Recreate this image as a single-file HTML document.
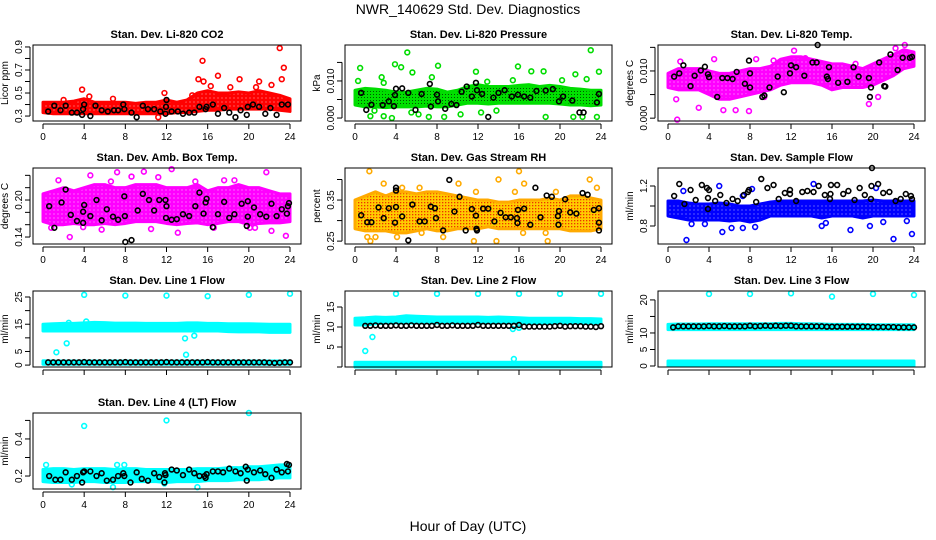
<!DOCTYPE html>
<html><head><meta charset="utf-8"><style>
body{margin:0;background:#fff;}
svg{display:block;font-family:"Liberation Sans",sans-serif;}
</style></head><body>
<svg id="chart" width="936" height="540" viewBox="0 0 936 540">
<defs>
<pattern id="patGreen" width="3" height="3" patternUnits="userSpaceOnUse"><rect width="3" height="3" fill="#00e000"/><rect x="1" y="1" width="1" height="1" fill="#005500"/></pattern>
<pattern id="patOrange" width="3" height="3" patternUnits="userSpaceOnUse"><rect width="3" height="3" fill="#ffcc00"/><rect x="1" y="1" width="1.3" height="1.3" fill="#ee3300"/></pattern>
<pattern id="patRed" width="4" height="4" patternUnits="userSpaceOnUse"><rect width="4" height="4" fill="#ff0000"/><rect x="1.5" y="1.5" width="1" height="1" fill="#ffb0b0"/></pattern>
<pattern id="patMagenta" width="4" height="4" patternUnits="userSpaceOnUse"><rect width="4" height="4" fill="#ff00ff"/><rect x="1.5" y="1.5" width="1" height="1" fill="#ffc0ff"/></pattern>
<pattern id="patBlue" width="4" height="4" patternUnits="userSpaceOnUse"><rect width="4" height="4" fill="#0000ff"/><rect x="1.5" y="1.5" width="1" height="1" fill="#b0b0ff"/></pattern>
</defs>
<text x="468" y="14" text-anchor="middle" font-size="14">NWR_140629  Std. Dev. Diagnostics</text>
<text x="468" y="531" text-anchor="middle" font-size="14">Hour of Day (UTC)</text>
</svg>
<script>
// ---------- data ----------
const bandHours=[0,1,2,3,4,5,6,7,8,9,10,11,12,13,14,15,16,17,18,19,20,21,22,23,24];
const xTicks=[0,4,8,12,16,20,24];

const co2Lo=[0.33,0.32,0.32,0.32,0.32,0.32,0.32,0.32,0.32,0.32,0.32,0.32,0.32,0.33,0.33,0.34,0.35,0.35,0.36,0.36,0.36,0.36,0.36,0.35,0.34];
const co2Hi=[0.42,0.42,0.42,0.43,0.45,0.42,0.42,0.42,0.42,0.41,0.42,0.42,0.44,0.42,0.44,0.50,0.52,0.50,0.50,0.51,0.50,0.52,0.50,0.48,0.45];
const co2Out=[[15.5,0.78],[23,0.89],[23.4,0.72],[23.2,0.62],[17,0.65],[15.1,0.62],[15.6,0.6],[16.3,0.56],[18.2,0.55],[19.1,0.62],[20.7,0.55],[21,0.6],[22.2,0.57],[3.8,0.53],[11.8,0.5],[14.5,0.48],[11.2,0.29],[4.5,0.47],[6.8,0.45],[2,0.44]];
const co2Blk=[[0.5,0.34],[1.1,0.39],[1.7,0.35],[2.2,0.39],[2.8,0.33],[3.3,0.33],[3.8,0.31],[3.9,0.36],[4,0.4],[4.6,0.3],[5.1,0.39],[5.7,0.35],[6.3,0.34],[6.9,0.35],[7.3,0.35],[7.8,0.4],[7.9,0.36],[8.6,0.33],[9.1,0.29],[9.7,0.39],[10.2,0.36],[10.8,0.36],[11.4,0.34],[11.9,0.32],[11.95,0.38],[12,0.44],[12.5,0.34],[13.1,0.34],[13.6,0.32],[14.2,0.33],[14.7,0.33],[15.2,0.38],[15.8,0.36],[15.9,0.38],[16.5,0.4],[17,0.32],[17.6,0.37],[18.1,0.33],[18.7,0.29],[19.2,0.35],[19.8,0.31],[19.9,0.38],[20.4,0.4],[21,0.38],[21.6,0.32],[22.1,0.37],[22.7,0.31],[23.2,0.4],[23.8,0.4]];

const presLo=[0.0035,0.003,0.003,0.0028,0.003,0.003,0.003,0.0032,0.003,0.003,0.0035,0.004,0.004,0.0038,0.004,0.004,0.004,0.004,0.004,0.004,0.0038,0.0035,0.0035,0.0033,0.0035];
const presHi=[0.0075,0.008,0.0078,0.0075,0.007,0.007,0.0075,0.008,0.0078,0.007,0.0075,0.0085,0.009,0.0085,0.0085,0.0085,0.0088,0.009,0.0085,0.0088,0.0085,0.008,0.0078,0.0075,0.0075];
const presOut=[[0.5,0.0135],[0.3,0.01],[2.6,0.011],[2.8,0.0095],[3.9,0.0145],[4.5,0.0137],[5.1,0.0177],[5.6,0.0123],[7.5,0.011],[8.1,0.0141],[11.8,0.0125],[12.9,0.0098],[15.4,0.0102],[15.9,0.0139],[17.2,0.0126],[18.4,0.0126],[20.2,0.0102],[21.5,0.0118],[22.6,0.0105],[23,0.0183],[23.8,0.0125],[1.5,0.0005],[2.8,0.0005],[3.6,0],[6.2,0.001],[7.2,0.0003],[8.7,0.0003],[10.3,0.001],[12.3,0.0015],[13.8,0.002],[18.6,0.0003],[21.3,0.0003],[22.2,0.0003],[23.6,0.0003],[1.9,0.002],[5.5,0.0015]];
const presBlk=[[0.6,0.0068],[1.1,0.0022],[1.6,0.0036],[2.7,0.0035],[3.3,0.0045],[3.8,0.0032],[3.9,0.0062],[4,0.0079],[4.6,0.008],[5.2,0.0068],[5.9,0.0022],[6.5,0.0065],[7.3,0.0092],[7.4,0.0031],[8,0.0063],[8.1,0.0045],[8.8,0.0025],[9.4,0.0038],[9.9,0.0035],[10.4,0.0071],[10.9,0.0085],[11.4,0.0058],[11.8,0.0095],[11.9,0.0075],[12.4,0.0065],[13,0.0003],[13.5,0.0055],[14,0.0068],[14.6,0.0075],[15.3,0.0058],[15.9,0.0063],[16.5,0.0058],[17.1,0.0055],[17.7,0.0073],[18.6,0.0074],[19.3,0.0078],[19.9,0.0045],[20.3,0.0058],[21.2,0.0047],[21.9,0.0015],[22.3,0.0015],[23.6,0.0042],[23.8,0.0065]];

const ltLo=[0.0065,0.006,0.006,0.006,0.005,0.004,0.004,0.0045,0.005,0.0055,0.006,0.007,0.0075,0.0075,0.0075,0.007,0.006,0.0065,0.0065,0.0065,0.007,0.008,0.009,0.0105,0.011];
const ltHi=[0.0095,0.0105,0.0105,0.0105,0.01,0.0095,0.0095,0.01,0.0105,0.0105,0.011,0.0125,0.013,0.013,0.0125,0.012,0.0115,0.0115,0.011,0.0105,0.0115,0.0125,0.0135,0.0145,0.014];
const ltOut=[[0.9,-0.0003],[0.8,0.004],[1.2,0.012],[3,0.0022],[4.5,0.0125],[5.4,0.0017],[6.6,0.0017],[7.9,0.0015],[8.6,0.0125],[10.3,0.0122],[12.3,0.0143],[19.6,0.003],[20.5,0.0045],[22.2,0.0148],[23.1,0.0155],[9.4,0.0045],[13.4,0.0127],[18.3,0.0115]];
const ltBlk=[[0.6,0.0088],[1.1,0.0095],[1.5,0.0112],[2.2,0.0068],[2.6,0.009],[3.2,0.0101],[3.6,0.0109],[3.9,0.0093],[4,0.0087],[4.8,0.0045],[5.3,0.0085],[5.8,0.0085],[6.3,0.0083],[6.7,0.0098],[7.5,0.0073],[7.9,0.0122],[8,0.0095],[8,0.0065],[9.2,0.0045],[9.4,0.0048],[9.9,0.0065],[10.7,0.0088],[11.3,0.0055],[11.9,0.0095],[12,0.0112],[12.5,0.0108],[13.3,0.009],[14.1,0.0118],[14.5,0.0118],[14.6,0.0155],[15.5,0.0088],[15.6,0.0083],[15.7,0.0108],[16.6,0.0075],[17.5,0.0077],[18.1,0.0108],[18.6,0.0088],[19.6,0.0085],[19.7,0.0045],[19.8,0.0065],[20.6,0.0118],[21.1,0.0068],[21.2,0.0067],[21.7,0.0135],[22.4,0.0102],[22.9,0.0128],[23.6,0.0128],[23.8,0.013]];

const ambLo=[0.165,0.16,0.16,0.162,0.16,0.16,0.162,0.16,0.162,0.165,0.165,0.165,0.162,0.16,0.162,0.163,0.16,0.162,0.165,0.165,0.16,0.162,0.163,0.163,0.165];
const ambHi=[0.21,0.215,0.22,0.215,0.22,0.225,0.225,0.22,0.22,0.225,0.225,0.225,0.22,0.22,0.22,0.225,0.215,0.22,0.22,0.225,0.22,0.22,0.215,0.21,0.21];
const ambOut=[[0.8,0.155],[1.5,0.232],[2.6,0.14],[3.9,0.156],[4.6,0.24],[5.7,0.152],[7.2,0.245],[8.6,0.238],[9.8,0.246],[10.5,0.153],[11.2,0.237],[12.5,0.25],[13.1,0.147],[14.8,0.23],[16.6,0.155],[18.6,0.232],[20.1,0.155],[20.6,0.155],[21.7,0.245],[22.2,0.15],[23.6,0.142],[17.6,0.232],[6.6,0.23]];
const ambBlk=[[0.6,0.19],[1.1,0.155],[1.8,0.196],[2.2,0.217],[2.7,0.176],[3.3,0.166],[3.9,0.163],[3.9,0.181],[4,0.192],[4.6,0.174],[5.2,0.2],[5.7,0.167],[6.2,0.185],[6.8,0.173],[7.3,0.168],[7.9,0.206],[7.95,0.174],[8,0.132],[8.6,0.135],[9.2,0.183],[9.7,0.21],[10.3,0.2],[10.8,0.183],[11.3,0.2],[11.9,0.2],[11.95,0.171],[12,0.19],[12.5,0.168],[13,0.169],[13.6,0.177],[14.2,0.174],[14.8,0.19],[15.2,0.212],[15.6,0.178],[15.8,0.196],[15.9,0.202],[16.5,0.156],[17,0.177],[17.6,0.197],[18.1,0.171],[18.6,0.177],[19.3,0.194],[19.8,0.158],[19.9,0.173],[19.9,0.198],[20.5,0.188],[21.1,0.177],[21.7,0.173],[22.2,0.194],[22.7,0.174],[23.2,0.185],[23.7,0.178],[23.8,0.19],[23.9,0.195]];

const rhLo=[0.28,0.275,0.275,0.275,0.27,0.27,0.275,0.28,0.275,0.275,0.28,0.28,0.28,0.285,0.28,0.28,0.28,0.28,0.28,0.28,0.28,0.275,0.275,0.275,0.28];
const rhHi=[0.35,0.36,0.37,0.36,0.37,0.37,0.365,0.37,0.37,0.365,0.36,0.355,0.35,0.35,0.345,0.345,0.35,0.35,0.35,0.355,0.35,0.36,0.36,0.355,0.35];
const rhOut=[[1.4,0.42],[1.2,0.26],[1.5,0.25],[2.8,0.39],[4.1,0.26],[4.6,0.38],[6.3,0.38],[6.5,0.27],[8.6,0.26],[10.1,0.39],[11.6,0.25],[11.8,0.37],[13.8,0.25],[14,0.4],[15.6,0.37],[16,0.42],[16.5,0.39],[16.4,0.27],[18.6,0.27],[18.8,0.25],[19.6,0.37],[22.9,0.4],[23.6,0.38],[2,0.26]];
const rhBlk=[[0.6,0.313],[1.2,0.296],[1.6,0.296],[2.3,0.332],[2.8,0.306],[3.3,0.33],[3.9,0.295],[4,0.333],[4,0.38],[4,0.373],[4.6,0.31],[5.2,0.252],[5.6,0.339],[6.3,0.298],[6.8,0.298],[7.4,0.334],[7.8,0.33],[7.9,0.306],[8.6,0.276],[9.2,0.399],[9.7,0.322],[10.2,0.358],[10.8,0.276],[11.4,0.328],[11.8,0.312],[11.85,0.28],[11.9,0.276],[12.5,0.329],[13,0.329],[13.6,0.298],[14.2,0.319],[14.7,0.308],[15.2,0.308],[15.8,0.306],[15.85,0.294],[15.9,0.326],[16.5,0.329],[17.1,0.29],[17.6,0.38],[18.1,0.308],[18.7,0.361],[19.2,0.358],[19.8,0.311],[19.85,0.29],[19.9,0.323],[20.5,0.352],[21,0.32],[21.6,0.317],[22.2,0.367],[22.7,0.363],[23.3,0.326],[23.8,0.33],[23.8,0.295],[23.8,0.276]];

const sfLo=[0.9,0.88,0.86,0.86,0.86,0.86,0.85,0.86,0.84,0.86,0.9,0.9,0.9,0.9,0.9,0.88,0.9,0.9,0.9,0.88,0.9,0.9,0.9,0.9,0.9];
const sfHi=[1.05,1.05,1.03,1.02,1.02,1.03,1.02,1.0,1.0,1.02,1.04,1.05,1.05,1.05,1.05,1.05,1.05,1.05,1.05,1.05,1.06,1.05,1.05,1.05,1.05];
const sfOut=[[1.8,0.66],[1.5,1.15],[5.3,0.74],[6.2,0.78],[7.3,0.78],[8.5,0.79],[15,0.8],[15.4,0.83],[17.8,0.76],[19.7,0.8],[21,0.84],[22,0.67],[23.8,0.72],[14.2,1.22],[5,1.2],[7.3,1.1],[8.2,1.17],[20.3,1.18],[23.3,0.85],[3.6,0.82],[2.3,0.82]];
const sfBlk=[[0.6,1.1],[1.1,1.22],[1.6,1.02],[2.2,1.16],[2.7,1.06],[3.3,1.21],[3.8,1.18],[3.9,0.97],[3.9,1.08],[4,1.16],[4.6,1.05],[5.1,1.11],[5.7,1.03],[6.3,1.07],[6.8,1.05],[7.4,1.11],[7.8,1.14],[7.9,1.16],[8.6,1.04],[9.1,1.27],[9.7,1.18],[10.3,1.21],[10.8,1.07],[11.4,1.13],[11.9,1.16],[11.9,1.12],[12.5,1.05],[13.1,1.14],[13.6,1.15],[14.2,1.14],[14.7,1.2],[15.3,1.11],[15.8,1.07],[15.85,1.12],[15.9,1.21],[16.5,1.21],[17.1,1.12],[17.6,1.15],[18.2,1.06],[18.7,1.18],[19.2,1.11],[19.8,1.07],[19.85,1.2],[19.9,1.38],[20.5,1.22],[21,1.13],[21.6,1.14],[22.2,1.05],[22.7,1.07],[23.2,1.12],[23.7,1.1],[23.8,1.07]];

const l1Lo=[12.5,12.5,12.5,12.5,12.5,12.5,12.5,12.5,12.5,12.5,12.5,12.5,12.5,12.5,12.5,12.5,12.5,12.5,12.3,12.2,12.2,12.2,12,12,12];
const l1Hi=[15,15.2,15.3,15.3,15.5,15.7,15.6,15.4,15.4,15.4,15.3,15.3,15.3,15.3,15.5,15.5,15.3,15.3,15.2,15.2,15.2,15.1,15,15,15];
const l1Lo2=[0.3,0.3,0.3,0.3,0.3,0.3,0.3,0.3,0.3,0.3,0.3,0.3,0.3,0.3,0.3,0.3,0.3,0.3,0.3,0.3,0.3,0.3,0.3,0.3,0.3];
const l1Hi2=[1.6,1.5,1.5,1.5,1.5,1.5,1.5,1.5,1.5,1.5,1.5,1.5,1.5,1.5,1.5,1.5,1.5,1.5,1.5,1.5,1.5,1.5,1.5,1.5,1.5];
const l1Out=[[4,25.8],[8,25.5],[12,25.5],[16,25.3],[20,25.8],[24,26.2],[1.3,4.7],[2.3,8],[13.8,9.8],[13.9,3.8],[14.7,10.8],[2.5,15.5],[4.2,16]];
const l1Blk=[[0.5,1],[1,1],[1.5,1],[2,1],[2.5,1],[3,1],[3.5,1],[4,1.1],[4.5,1],[5,1],[5.5,1],[6,1],[6.5,1],[7,1],[7.5,1],[8,1.1],[8.5,1],[9,1],[9.5,1],[10,1],[10.5,1],[11,1],[11.5,1],[12,1.1],[12.5,1],[13,1],[13.5,1],[14,1],[14.5,1],[15,1],[15.5,1],[16,1.1],[16.5,1],[17,1],[17.5,1],[18,1],[18.5,1],[19,1],[19.5,1],[20,1],[20.5,1],[21,1],[21.5,1],[22,0.9],[22.5,0.8],[23,0.9],[23.5,1],[24,1]];

const l2Lo=[10.5,10.5,10.8,11,11,11,11,11,11,11,11,11,11,11,11,11,11,11,11,11,11,11,11,11,11];
const l2Hi=[12.2,12.3,12.5,12.4,12.5,12.8,12.7,12.6,12.5,12.5,12.5,12.5,12.5,12.4,12.5,12.4,12.3,12.2,12.2,12.2,12.2,12.2,12.1,12.1,12];
const l2Lo2=[0,0,0,0,0,0,0,0,0,0,0,0,0,0,0,0,0,0,0,0,0,0,0,0,0];
const l2Hi2=[1.2,1.2,1.2,1.2,1.2,1.2,1.2,1.2,1.2,1.2,1.2,1.2,1.2,1.2,1.2,1.2,1.2,1.2,1.2,1.2,1.2,1.2,1.2,1.2,1.2];
const l2Out=[[4,18.3],[8,18.3],[12,18.3],[16,18.3],[20,18.3],[24,18.3],[1,4],[1.7,7.5],[15.5,2],[15.4,9.5],[16,9.8]];
const l2Blk=[[1,10.3],[1.5,10.3],[2,10.4],[2.5,10.3],[3,10.3],[3.5,10.3],[4,10.4],[4.5,10.3],[5,10.3],[5.5,10.4],[6,10.3],[6.5,10.3],[7,10.3],[7.5,10.3],[8,10.5],[8.5,10.3],[9,10.3],[9.5,10.4],[10,10.3],[10.5,10.3],[11,10.3],[11.5,10.3],[12,10.5],[12.5,10.3],[13,10.3],[13.5,10.3],[14,10.3],[14.5,10.3],[15,10.3],[15.5,10.3],[16,10.5],[16.5,10.1],[17,10.1],[17.5,10.1],[18,10.1],[18.5,10.1],[19,10.1],[19.5,10.2],[20,10.3],[20.5,10.1],[21,10.2],[21.5,10.2],[22,10.2],[22.5,10.1],[23,10.1],[23.5,10],[24,10.2]];

const l3Lo=[11,11,11,11,11,11,11,11,11,11,11,11,11,11,11,11,11,11,11,11,11,11,11,11,11];
const l3Hi=[12.6,12.7,12.7,12.7,12.8,12.8,12.8,12.8,12.8,12.8,12.8,12.9,12.9,12.8,12.8,12.7,12.6,12.6,12.6,12.6,12.5,12.5,12.5,12.5,12.5];
const l3Lo2=[0,0,0,0,0,0,0,0,0,0,0,0,0,0,0,0,0,0,0,0,0,0,0,0,0];
const l3Hi2=[1.5,1.5,1.5,1.5,1.5,1.5,1.5,1.5,1.5,1.5,1.5,1.5,1.5,1.5,1.5,1.5,1.5,1.5,1.5,1.5,1.5,1.5,1.5,1.5,1.5];
const l3Out=[[4,21.8],[8,21.8],[12,22],[16,21],[20,21.8],[24,21.5]];
const l3Blk=[[0.5,11.7],[1,12],[1.5,12],[2,12],[2.5,12],[3,12],[3.5,12],[4,12.1],[4.5,12],[5,12],[5.5,12.1],[6,12],[6.5,12],[7,12],[7.5,12],[8,12.2],[8.5,12],[9,12.1],[9.5,12.2],[10,12.1],[10.5,12.2],[11,12.1],[11.5,12.2],[12,12.2],[12.5,12],[13,12],[13.5,12],[14,12],[14.5,12],[15,12],[15.5,11.9],[16,11.9],[16.5,11.9],[17,11.9],[17.5,11.9],[18,11.9],[18.5,11.9],[19,11.9],[19.5,11.9],[20,11.8],[20.5,11.8],[21,11.8],[21.5,11.8],[22,11.8],[22.5,11.7],[23,11.7],[23.5,11.7],[24,11.7]];

const l4Lo=[0.17,0.165,0.165,0.165,0.17,0.17,0.165,0.165,0.165,0.17,0.17,0.17,0.165,0.17,0.17,0.17,0.175,0.175,0.175,0.18,0.18,0.18,0.185,0.19,0.19];
const l4Hi=[0.235,0.24,0.24,0.235,0.24,0.24,0.24,0.235,0.24,0.24,0.235,0.235,0.235,0.235,0.235,0.24,0.24,0.24,0.245,0.245,0.25,0.25,0.255,0.26,0.26];
const l4Out=[[4,0.47],[12,0.5],[20,0.54],[0.3,0.26],[7.2,0.26],[7.9,0.26],[6.8,0.14],[15,0.14],[11.8,0.16],[2.8,0.155]];
const l4Blk=[[0.6,0.2],[1.2,0.18],[1.7,0.18],[2.2,0.22],[2.8,0.18],[3.3,0.2],[3.8,0.165],[3.9,0.22],[4,0.225],[4.6,0.225],[5.2,0.2],[5.7,0.215],[6.2,0.175],[6.8,0.18],[7.3,0.2],[7.8,0.215],[7.9,0.2],[8.5,0.165],[9.1,0.22],[9.6,0.185],[10.2,0.175],[10.8,0.215],[11.3,0.195],[11.8,0.165],[11.85,0.215],[11.9,0.205],[12.5,0.235],[13,0.23],[13.6,0.205],[14.2,0.235],[14.7,0.215],[15.2,0.2],[15.7,0.2],[15.8,0.19],[15.9,0.21],[16.5,0.225],[17,0.225],[17.5,0.22],[18.1,0.24],[18.7,0.225],[19.2,0.215],[19.7,0.25],[19.8,0.175],[19.9,0.235],[20.5,0.22],[21.1,0.23],[21.6,0.21],[22.2,0.19],[22.7,0.235],[23.2,0.22],[23.7,0.265],[23.8,0.225],[23.9,0.26]];

// ---------- layout (not data) ----------
const NS="http://www.w3.org/2000/svg";
const svg=document.getElementById('chart');
function mk(tag,attrs,parent){const e=document.createElementNS(NS,tag);for(const k in attrs)e.setAttribute(k,attrs[k]);(parent||svg).appendChild(e);return e;}
const cols=[[33,301],[345,612],[658,925]];
const rows=[[45,121],[168,244],[291,367],[413,489]];

const panels=[
 {name:'co2',title:'Stan. Dev. Li-820 CO2',ylab:'Licor ppm',c:0,r:0,ymin:0.257,ymax:0.917,ticks:[0.3,0.4,0.5,0.6,0.7,0.8,0.9],labels:[0.3,0.5,0.7,0.9],fmt:1,col:'#ff0000',fill:'url(#patRed)',bands:[[co2Lo,co2Hi]],out:co2Out,blk:co2Blk},
 {name:'pressure',title:'Stan. Dev. Li-820 Pressure',ylab:'kPa',c:1,r:0,ymin:-0.0008,ymax:0.0197,ticks:[0,0.005,0.01,0.015],labels:[0,0.01],fmt:3,col:'#00dd00',fill:'url(#patGreen)',bands:[[presLo,presHi]],out:presOut,blk:presBlk},
 {name:'licor-temp',title:'Stan. Dev. Li-820 Temp.',ylab:'degrees C',c:2,r:0,ymin:-0.0006,ymax:0.0155,ticks:[0,0.005,0.01,0.015],labels:[0,0.01],fmt:3,col:'#ff00ff',fill:'url(#patMagenta)',bands:[[ltLo,ltHi]],out:ltOut,blk:ltBlk},
 {name:'amb-box-temp',title:'Stan. Dev. Amb. Box Temp.',ylab:'degrees C',c:0,r:1,ymin:0.1287,ymax:0.2519,ticks:[0.14,0.16,0.18,0.2,0.22,0.24],labels:[0.14,0.2],fmt:2,col:'#ff00ff',fill:'url(#patMagenta)',bands:[[ambLo,ambHi]],out:ambOut,blk:ambBlk},
 {name:'gas-stream-rh',title:'Stan. Dev. Gas Stream RH',ylab:'percent',c:1,r:1,ymin:0.243,ymax:0.428,ticks:[0.25,0.3,0.35,0.4],labels:[0.25,0.35],fmt:2,col:'#ffaa00',fill:'url(#patOrange)',bands:[[rhLo,rhHi]],out:rhOut,blk:rhBlk},
 {name:'sample-flow',title:'Stan. Dev. Sample Flow',ylab:'ml/min',c:2,r:1,ymin:0.62,ymax:1.38,ticks:[0.8,1.0,1.2],labels:[0.8,1.2],fmt:1,col:'#0000ff',fill:'url(#patBlue)',bands:[[sfLo,sfHi]],out:sfOut,blk:sfBlk},
 {name:'line1-flow',title:'Stan. Dev. Line 1 Flow',ylab:'ml/min',c:0,r:2,ymin:-0.7,ymax:27.2,ticks:[0,5,10,15,20,25],labels:[0,5,15,25],fmt:0,col:'#00ffff',fill:'#00ffff',bands:[[l1Lo,l1Hi],[l1Lo2,l1Hi2]],out:l1Out,blk:l1Blk},
 {name:'line2-flow',title:'Stan. Dev. Line 2 Flow',ylab:'ml/min',c:1,r:2,ymin:0,ymax:19,ticks:[0,5,10,15],labels:[5,10,15],fmt:0,col:'#00ffff',fill:'#00ffff',bands:[[l2Lo,l2Hi],[l2Lo2,l2Hi2]],out:l2Out,blk:l2Blk},
 {name:'line3-flow',title:'Stan. Dev. Line 3 Flow',ylab:'ml/min',c:2,r:2,ymin:-0.3,ymax:22.7,ticks:[0,5,10,15,20],labels:[0,5,10,20],fmt:0,col:'#00ffff',fill:'#00ffff',bands:[[l3Lo,l3Hi],[l3Lo2,l3Hi2]],out:l3Out,blk:l3Blk},
 {name:'line4-flow',title:'Stan. Dev. Line 4 (LT) Flow',ylab:'ml/min',c:0,r:3,ymin:0.13,ymax:0.54,ticks:[0.2,0.3,0.4,0.5],labels:[0.2,0.4],fmt:1,col:'#00ffff',fill:'#00ffff',bands:[[l4Lo,l4Hi]],out:l4Out,blk:l4Blk}
];

panels.forEach(p=>{
 const [L,R]=cols[p.c],[T,B]=rows[p.r];
 const g=mk('g',{});
 
 
 const xs=h=>L+10+(R-L-21)*h/24;
 const ys=v=>B-(v-p.ymin)/(p.ymax-p.ymin)*(B-T);
 const t=mk('text',{x:(L+R)/2,y:T-7,'text-anchor':'middle','font-size':11,'font-weight':'bold'},g);
 t.textContent=p.title;
 
 
 const clip=mk('g',{},g);
 p.bands.forEach(([lo,hi])=>{
  let pts=bandHours.map((h,i)=>xs(h)+','+ys(hi[i]));
  pts=pts.concat(bandHours.map((h,i)=>xs(h)+','+ys(lo[i])).reverse());
  const poly=mk('polygon',{points:pts.join(' '),fill:p.fill,stroke:p.col,'stroke-width':3,'stroke-linejoin':'round'},clip);
  
  
 });
 p.out.forEach(([h,v])=>{
  const c=mk('circle',{cx:xs(h),cy:ys(v),r:2.4,fill:'none',stroke:p.col,'stroke-width':1.6},clip);
  
  
 });
 p.blk.forEach(([h,v])=>{
  const c=mk('circle',{cx:xs(h),cy:ys(v),r:2.4,fill:'none',stroke:'#000','stroke-width':1.6},clip);
  
  
 });
 const box=mk('rect',{x:L,y:T,width:R-L,height:B-T,fill:'none',stroke:'#000','stroke-width':1},g);
 
 
 const xa=mk('g',{},g);
 
 
 mk('line',{x1:xs(0),x2:xs(24),y1:B+3,y2:B+3,stroke:'#000'},xa);
 xTicks.forEach(h=>{
  mk('line',{x1:xs(h),x2:xs(h),y1:B+3,y2:B+8,stroke:'#000'},xa);
  if(p.r<2||p.name==='line4-flow'){const tx=mk('text',{x:xs(h),y:B+19,'text-anchor':'middle','font-size':10},xa);tx.textContent=h;}
 });
 const ya=mk('g',{},g);
 
 
 mk('line',{x1:L-3,x2:L-3,y1:ys(p.ticks[0]),y2:ys(p.ticks[p.ticks.length-1]),stroke:'#000'},ya);
 p.ticks.forEach(v=>{mk('line',{x1:L-3,x2:L-8,y1:ys(v),y2:ys(v),stroke:'#000'},ya);});
 p.labels.forEach(v=>{
  const tx=mk('text',{x:L-11,y:ys(v),'text-anchor':'middle','font-size':10,transform:`rotate(-90 ${L-11} ${ys(v)})`},ya);
  tx.textContent=v.toFixed(p.fmt);
 });
 const yl=mk('text',{x:L-25,y:(T+B)/2,'text-anchor':'middle','font-size':10,transform:`rotate(-90 ${L-25} ${(T+B)/2})`},g);
 yl.textContent=p.ylab;
 
 
});
</script>
</body></html>
